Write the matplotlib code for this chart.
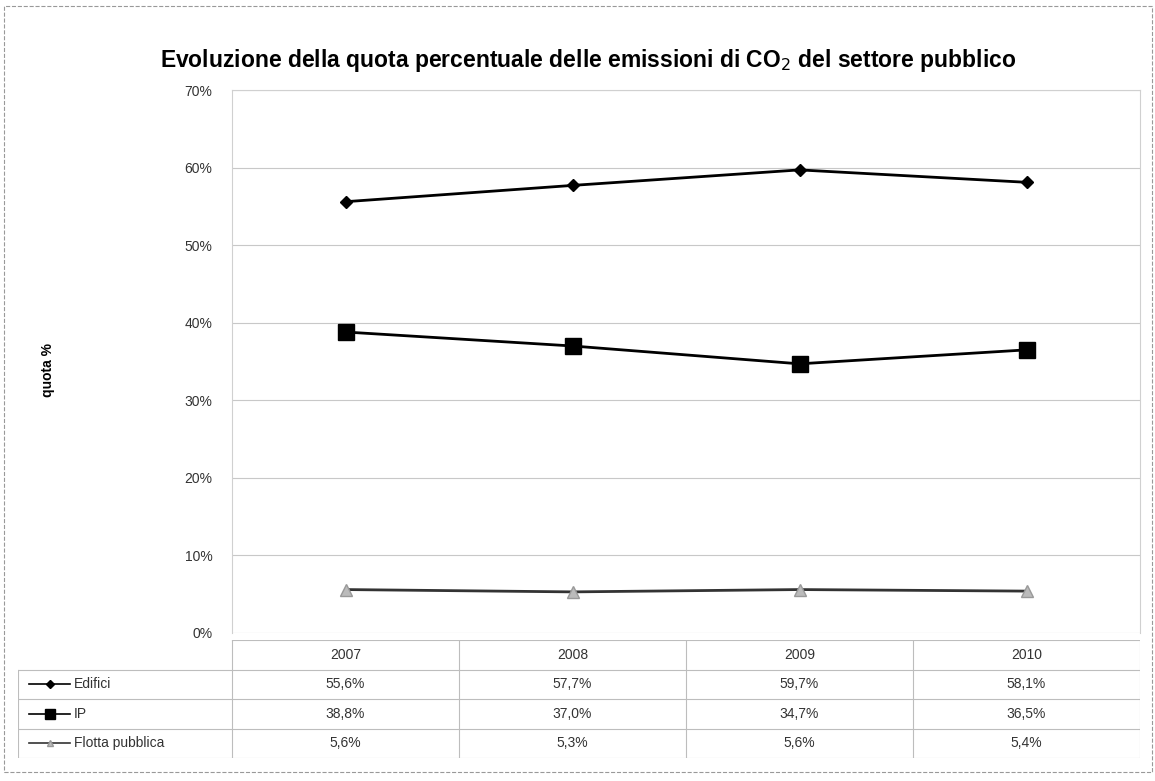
import numpy as np
import matplotlib.pyplot as plt
from matplotlib.lines import Line2D

plt.rcParams['font.family'] = ['Liberation Sans', 'DejaVu Sans']

anni = ['2007', '2008', '2009', '2010']
edifici = [55.6, 57.7, 59.7, 58.1]
ip = [38.8, 37.0, 34.7, 36.5]
flotta = [5.6, 5.3, 5.6, 5.4]
serie = ['Edifici', 'IP', 'Flotta pubblica']

W, H = 1155, 781
fig = plt.figure(figsize=(W / 100, H / 100), dpi=100)

def box(x0, y0, x1, y1):
    return [x0 / W, 1 - y1 / H, (x1 - x0) / W, (y1 - y0) / H]

ax = fig.add_axes(box(232, 90, 1140, 633))
x = np.arange(len(anni))
ax.plot(x, edifici, color='black', lw=2, marker='D', ms=6, mfc='black')
ax.plot(x, ip, color='black', lw=2, marker='s', ms=11, mfc='black')
ax.plot(x, flotta, color='#333333', lw=2, marker='^', ms=8,
        mfc='#bbbbbb', mec='#999999')
ax.set_xlim(-0.5, 3.5)
ax.set_ylim(0, 70)
ax.set_yticks(range(0, 71, 10))
ax.set_yticklabels([f'{v}%' for v in range(0, 71, 10)], fontsize=10, color='#333333')
ax.set_xticks([])
ax.grid(axis='y', color='#c8c8c8', lw=0.8)
ax.tick_params(axis='y', length=0, pad=14)
for s in ax.spines.values():
    s.set_color('#d0d0d0')
ax.spines['bottom'].set_visible(False)
fig.text(48 / W, 1 - 370 / H, 'quota %', rotation=90, ha='center', va='center',
         fontsize=10, fontweight='bold')

fig.text(588 / W, 1 - 60 / H,
         'Evoluzione della quota percentuale delle emissioni di CO$_2$ del settore pubblico',
         ha='center', va='center', fontsize=16.5, fontweight='bold')

# tabella dati sotto il grafico
tax = fig.add_axes(box(18, 640, 1140, 758))
leg_w = (232 - 18) / 227.0
tax.set_xlim(-0.5 - leg_w, 3.5)
tax.set_ylim(4, 0)
tax.axis('off')
gc = '#bdbdbd'
tax.plot([-0.5, 3.5], [0, 0], color=gc, lw=0.8)
for r in range(1, 5):
    tax.plot([-0.5 - leg_w, 3.5], [r, r], color=gc, lw=0.8)
for c in np.arange(-0.5, 3.6, 1.0):
    tax.plot([c, c], [0, 4], color=gc, lw=0.8)
tax.plot([-0.5 - leg_w] * 2, [1, 4], color=gc, lw=0.8)
for i, a in enumerate(anni):
    tax.text(i, 0.5, a, ha='center', va='center', fontsize=10, color='#333333')
righe = [edifici, ip, flotta]
for r, vals in enumerate(righe):
    for i, v in enumerate(vals):
        tax.text(i, r + 1.5, f'{v:.1f}%'.replace('.', ','), ha='center', va='center',
                 fontsize=10, color='#333333')
stili = [dict(marker='D', ms=4, mfc='black', color='black'),
         dict(marker='s', ms=7, mfc='black', color='black'),
         dict(marker='^', ms=5, mfc='#bbbbbb', mec='#999999', color='#333333')]
x0 = -0.5 - leg_w
for r, (nome, st) in enumerate(zip(serie, stili)):
    tax.add_line(Line2D([x0 + 0.05, x0 + 0.14, x0 + 0.23], [r + 1.5] * 3,
                        lw=1.2, markevery=[1], **st))
    tax.text(x0 + 0.245, r + 1.5, nome, ha='left', va='center', fontsize=10, color='#333333')

# bordo esterno
fig.patches.append(plt.Rectangle((4 / W, 1 - 772 / H), 1148 / W, 766 / H,
                                 transform=fig.transFigure, fill=False,
                                 ec='#999999', lw=0.8, ls='--'))

fig.savefig('out.png', dpi=100)
